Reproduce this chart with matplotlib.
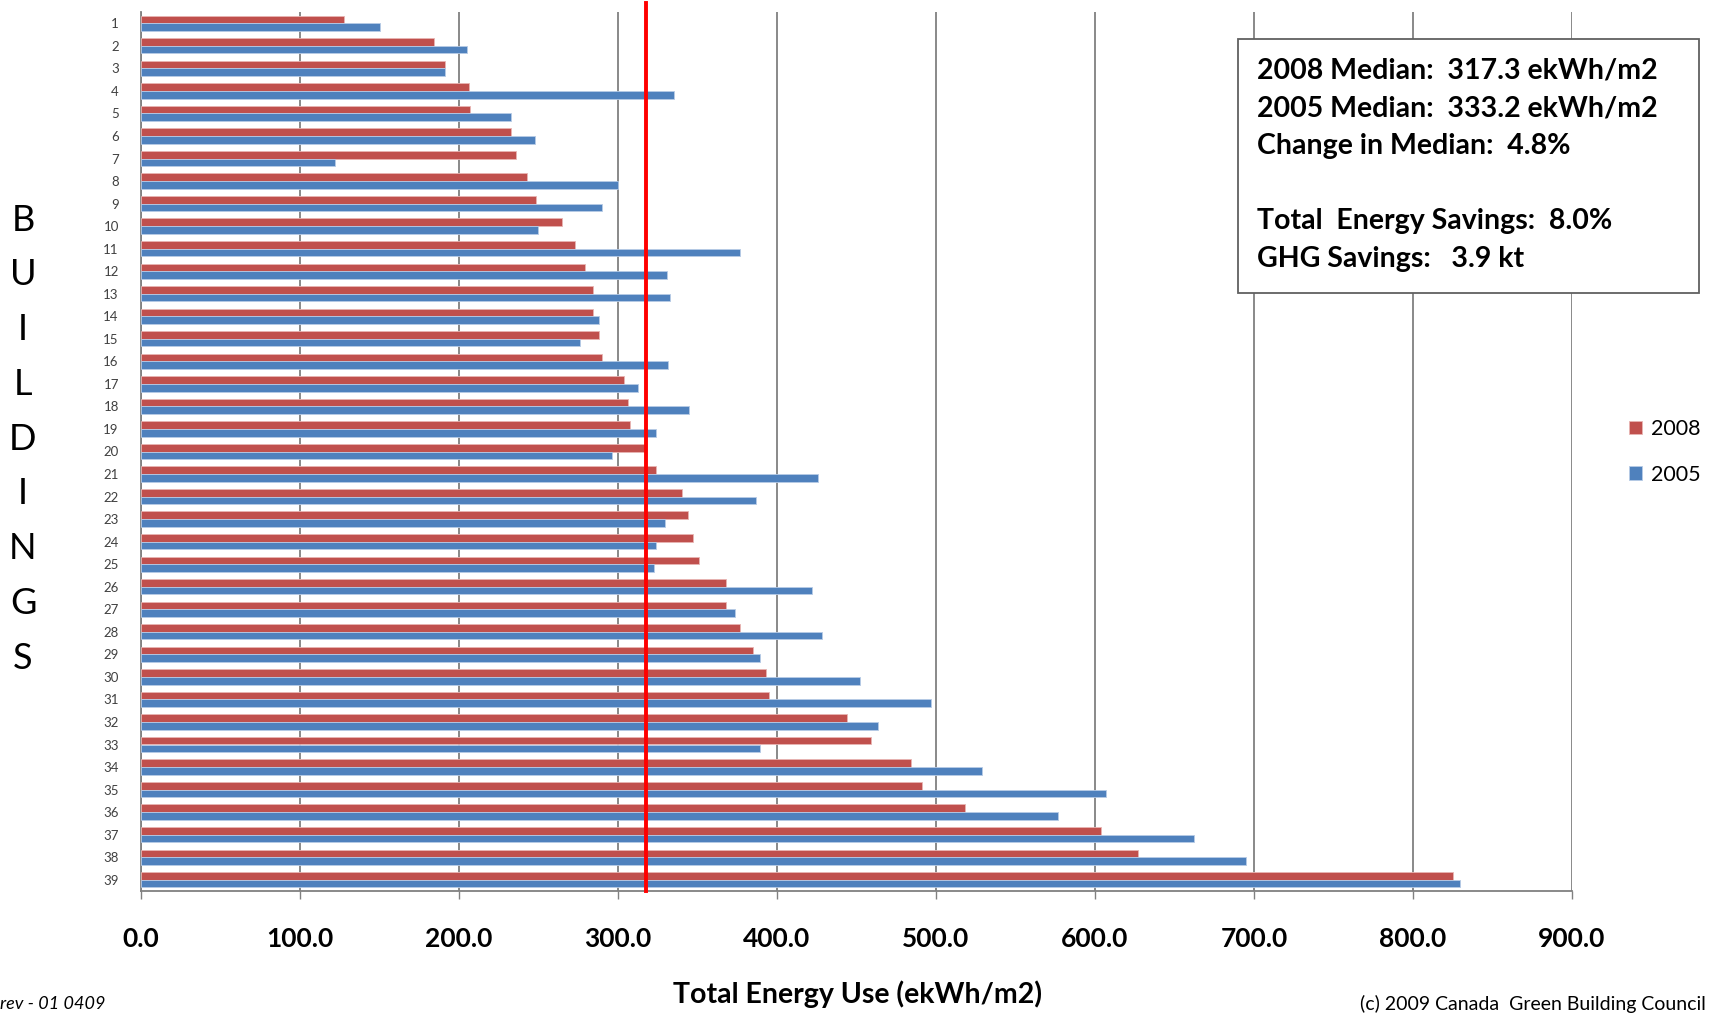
import numpy as np
import matplotlib
matplotlib.use("Agg")
import matplotlib.pyplot as plt
from matplotlib.patches import Rectangle

plt.rcParams['font.family'] = ['Lato', 'DejaVu Sans']

# 건물 번호 1..39
buildings = [str(i) for i in range(1, 40)]

energy_2008 = [127.5, 184, 191, 206, 207, 232.5, 236, 243, 248.5, 265,
               273, 279, 284.5, 284.5, 288, 290, 304, 306.5, 307.5, 317.3,
               323.8, 340, 344, 347, 351, 368, 368, 377, 385,
               393, 395, 444, 459, 484.5, 491.5, 518, 604, 627, 825]
energy_2005 = [150.5, 205, 191, 335, 232.5, 247.7, 121.8, 300, 290, 249.6,
               377, 331, 333, 288, 276.3, 331.7, 312.3, 344.5, 323.8, 296.2,
               425.5, 387, 329.3, 323.8, 322.6, 422, 373.4, 428.3, 389.6,
               452, 497, 463.5, 389.4, 528.7, 607, 577, 662, 695, 829.7]

median_2008 = 317.3
xticks = np.arange(0, 1000, 100)
stats_lines = ["2008 Median:  317.3 ekWh/m2",
               "2005 Median:  333.2 ekWh/m2",
               "Change in Median:  4.8%",
               "",
               "Total  Energy Savings:  8.0%",
               "GHG Savings:   3.9 kt"]

RED = '#C0504D'
BLUE = '#4F81BD'

fig = plt.figure(figsize=(17.13, 10.16), dpi=100)
ax = fig.add_axes([141 / 1713, 1 - 891 / 1016, (1572 - 141) / 1713, (891 - 12) / 1016])

y = np.arange(len(buildings))
h = 0.34
ax.barh(y - h / 2, energy_2008, height=h, color=RED, edgecolor='#E8B5B3', linewidth=0.6, label='2008', zorder=3)
ax.barh(y + h / 2, energy_2005, height=h, color=BLUE, edgecolor='#B7CBE6', linewidth=0.6, label='2005', zorder=3)

ax.set_ylim(len(buildings) - 0.5, -0.5)
ax.set_xlim(0, 900)
ax.set_yticks(y)
ax.set_yticklabels(buildings, fontsize=9.5, color='#404040')
ax.set_xticks(xticks)
ax.set_xticklabels([f"{v:.1f}" for v in xticks], fontsize=19, fontweight='bold')
ax.tick_params(axis='x', length=6, width=1, color='#808080', pad=20)
ax.tick_params(axis='y', length=0, pad=16)

ax.grid(axis='x', color='#808080', linewidth=1.3, zorder=0)
for s in ['top', 'right']:
    ax.spines[s].set_visible(False)
ax.spines['left'].set_color('#808080')
ax.spines['bottom'].set_color('#808080')
ax.spines['left'].set_linewidth(1.3)
ax.spines['bottom'].set_linewidth(1.3)

# 중앙값 선 (위쪽으로 조금 넘어감)
ax.plot([median_2008, median_2008], [-0.9, len(buildings) - 0.5], color='#FF0000',
        linewidth=2.8, zorder=5, clip_on=False)

# x축 제목
fig.text(857 / 1713, 1 - 994 / 1016, 'Total Energy Use (ekWh/m2)', fontsize=20.5, fontweight='bold',
         ha='center', va='center')

# 통계 박스
fig.patches.append(Rectangle((1238 / 1713, 1 - 293 / 1016), (1699 - 1238) / 1713, (293 - 39) / 1016,
                             transform=fig.transFigure, facecolor='white', edgecolor='#606060',
                             linewidth=1.3, zorder=6))
fig.text(1257 / 1713, 1 - 58 / 1016, "\n".join(stats_lines), fontsize=20.5, fontweight='bold',
         va='top', ha='left', linespacing=1.55, zorder=7)

# BUILDINGS 세로 라벨
for i, ch in enumerate("BUILDINGS"):
    fig.text(23 / 1713, 1 - (220 + i * 54.8) / 1016, ch, fontsize=26, ha='center', va='center')

leg = fig.legend(loc='center left', bbox_to_anchor=(1610 / 1713, 1 - 452 / 1016), frameon=False,
                 fontsize=15.5, handlelength=0.6, handleheight=0.6, handletextpad=0.4, labelspacing=1.2)

fig.text(0, 1 - 1004 / 1016, "rev - 01 0409", fontsize=13, style='italic', va='center', ha='left')
fig.text(1360 / 1713, 1 - 1004 / 1016, "(c) 2009 Canada  Green Building Council", fontsize=14, va='center', ha='left')

fig.savefig('out.png', dpi=100)
